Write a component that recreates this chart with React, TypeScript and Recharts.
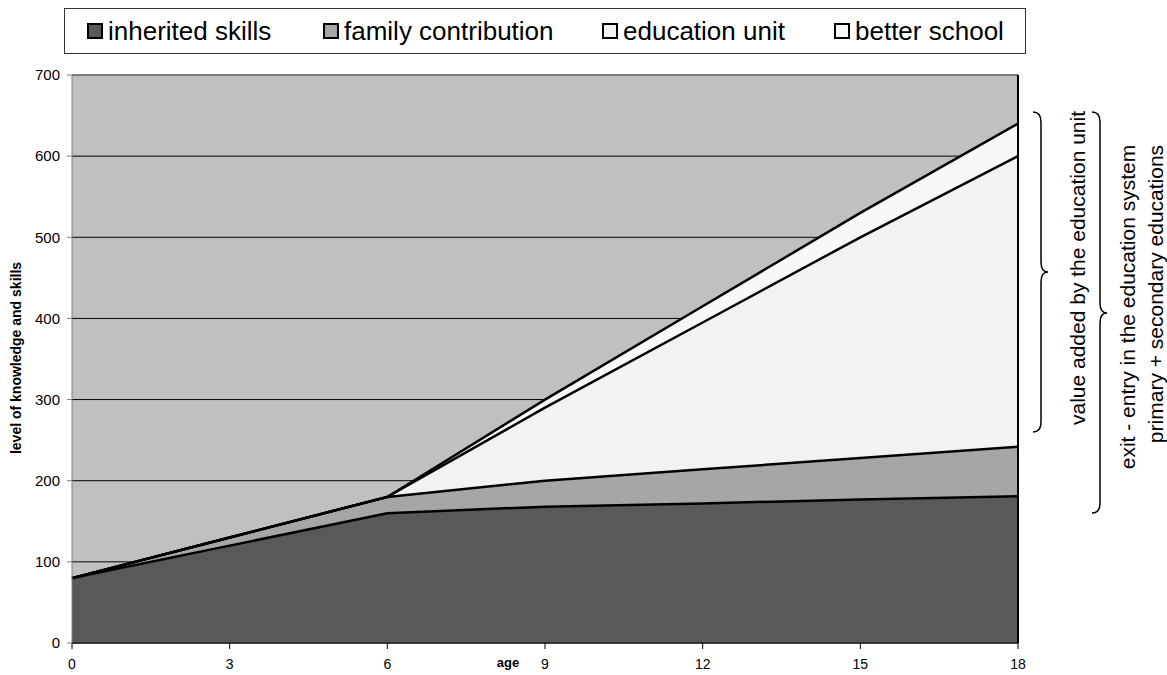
import { ComposedChart, Area, Line, XAxis, YAxis, CartesianGrid, ReferenceLine } from 'recharts';

const ages = [0, 3, 6, 9, 12, 15, 18];
const inheritedSkills = [80, 120, 160, 168, 172, 177, 181];
const familyContribution = [0, 10, 20, 32, 42, 51, 61];
const educationUnit = [0, 0, 0, 90, 181, 272, 358];
const betterSchool = [0, 0, 0, 10, 20, 30, 40];

const xTicks = [0, 3, 6, 9, 12, 15, 18];
const yTicks = [0, 100, 200, 300, 400, 500, 600, 700];

const seriesNames = ['inherited skills', 'family contribution', 'education unit', 'better school'];
const seriesKeys = ['inherited', 'family', 'education', 'better'];
const seriesColors = ['#595959', '#a6a6a6', '#f2f2f2', '#f8f8f8'];

// stacked values plus the running totals used for the black outlines
const data = ages.map((age, i) => {
  const c1 = inheritedSkills[i];
  const c2 = c1 + familyContribution[i];
  const c3 = c2 + educationUnit[i];
  const c4 = c3 + betterSchool[i];
  return {
    age,
    inherited: inheritedSkills[i],
    family: familyContribution[i],
    education: educationUnit[i],
    better: betterSchool[i],
    top1: c1,
    top2: c2,
    top3: c3,
    top4: c4,
  };
});

const font = "'Liberation Sans', Arial, sans-serif";
const legendLeft = [87, 323, 602, 834];

export default function App() {
  return (
    <div style={{ position: 'fixed', left: 0, top: 0, width: 1167, height: 675, background: '#fff', fontFamily: font }}>
      {/* legend */}
      <div style={{ position: 'absolute', left: 64, top: 8, width: 960, height: 44, border: '1px solid #333', background: '#fff' }} />
      {seriesNames.map((name, i) => (
        <div key={name} style={{ position: 'absolute', left: legendLeft[i], top: 16, height: 30, display: 'flex', alignItems: 'center', fontSize: 26, color: '#000', whiteSpace: 'nowrap' }}>
          <span style={{ display: 'inline-block', width: 12, height: 12, border: '2px solid #000', background: seriesColors[i], marginRight: 5 }} />
          {name}
        </div>
      ))}

      <div style={{ position: 'absolute', left: 0, top: 0 }}>
        <ComposedChart width={1167} height={675} data={data} margin={{ top: 75, right: 149, bottom: 0, left: 0 }}>
          <CartesianGrid vertical={false} fill="#c0c0c0" fillOpacity={1} stroke="#000" strokeWidth={1} />
          <XAxis
            dataKey="age"
            type="number"
            domain={[0, 18]}
            ticks={xTicks}
            height={32}
            tickSize={6}
            tickMargin={10}
            stroke="#000"
            tick={{ fill: '#000', fontSize: 14, fontFamily: font }}
          />
          <YAxis
            domain={[0, 700]}
            ticks={yTicks}
            width={72}
            tickSize={5}
            tickMargin={7}
            stroke="#808080"
            tick={{ fill: '#000', fontSize: 15, fontFamily: font }}
          />
          {seriesKeys.map((k, i) => (
            <Area
              key={k}
              dataKey={k}
              name={seriesNames[i]}
              stackId="1"
              type="linear"
              stroke="none"
              fill={seriesColors[i]}
              fillOpacity={1}
              dot={false}
              activeDot={false}
              isAnimationActive={false}
            />
          ))}
          {['top1', 'top2', 'top3', 'top4'].map((k) => (
            <Line
              key={k}
              dataKey={k}
              type="linear"
              stroke="#000"
              strokeWidth={2.5}
              dot={false}
              activeDot={false}
              legendType="none"
              isAnimationActive={false}
            />
          ))}
          <ReferenceLine y={700} stroke="#808080" strokeWidth={1.5} />
          <ReferenceLine x={18} stroke="#000" strokeWidth={2} />
        </ComposedChart>
      </div>

      {/* axis titles, braces and notes */}
      <svg width={1167} height={675} style={{ position: 'absolute', left: 0, top: 0, pointerEvents: 'none' }}>
        <text x={16} y={358} transform="rotate(-90, 16, 358)" textAnchor="middle" dominantBaseline="central" fontSize={14} fontWeight="bold" fontFamily={font}>
          level of knowledge and skills
        </text>
        <text x={508} y={662} textAnchor="middle" dominantBaseline="central" fontSize={13} fontWeight="bold" fontFamily={font}>
          age
        </text>
        <path d="M1033,112 Q1041,112 1041,122 L1041,262 Q1041,272 1048,272 Q1041,272 1041,282 L1041,422 Q1041,432 1033,432" fill="none" stroke="#000" strokeWidth={1.5} />
        <path d="M1092,112 Q1100,112 1100,122 L1100,303 Q1100,313 1107,313 Q1100,313 1100,323 L1100,503 Q1100,513 1092,513" fill="none" stroke="#000" strokeWidth={1.5} />
        <text x={1077} y={268} transform="rotate(-90, 1077, 268)" textAnchor="middle" dominantBaseline="central" fontSize={21} fontFamily={font}>
          value added by the education unit
        </text>
        <text x={1127} y={307} transform="rotate(-90, 1127, 307)" textAnchor="middle" dominantBaseline="central" fontSize={21} fontFamily={font}>
          exit - entry in the education system
        </text>
        <text x={1155} y={294} transform="rotate(-90, 1155, 294)" textAnchor="middle" dominantBaseline="central" fontSize={21} fontFamily={font}>
          primary + secondary educations
        </text>
      </svg>
    </div>
  );
}
